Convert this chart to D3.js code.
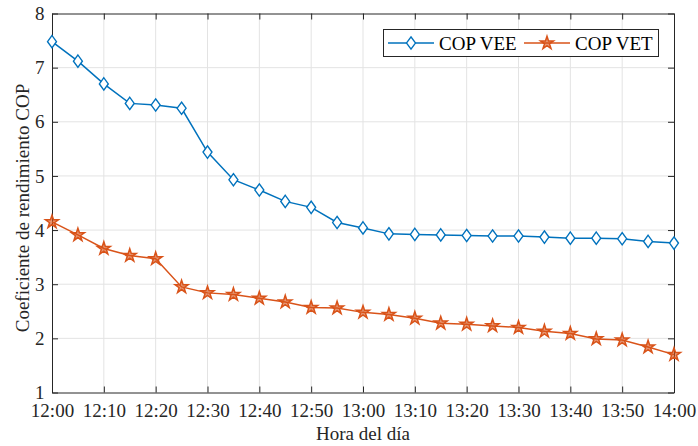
<!DOCTYPE html>
<html>
<head>
<meta charset="utf-8">
<script src="https://cdn.jsdelivr.net/npm/d3@7"></script>
<style>
  body { margin: 0; background: #fff; }
  svg text { font-family: "Liberation Serif", "Times New Roman", serif; }
</style>
</head>
<body>
<svg id="chart" width="698" height="446"></svg>
<script>
// minutes after 12:00, one sample every 5 min
var minutes = d3.range(0, 121, 5);
var copVEE = [7.48, 7.12, 6.70, 6.34, 6.31, 6.25, 5.44, 4.93, 4.74, 4.53, 4.42, 4.14, 4.04,
              3.93, 3.92, 3.91, 3.90, 3.89, 3.89, 3.87, 3.85, 3.85, 3.84, 3.79, 3.76];
var copVET = [4.15, 3.91, 3.66, 3.53, 3.47, 2.95, 2.84, 2.81, 2.74, 2.67, 2.57, 2.56, 2.48,
              2.44, 2.37, 2.28, 2.26, 2.23, 2.20, 2.13, 2.09, 1.99, 1.97, 1.84, 1.70];
var xTicks = [0, 10, 20, 30, 40, 50, 60, 70, 80, 90, 100, 110, 120];
var xTickLabels = ['12:00', '12:10', '12:20', '12:30', '12:40', '12:50', '13:00',
                   '13:10', '13:20', '13:30', '13:40', '13:50', '14:00'];
var yTicks = [1, 2, 3, 4, 5, 6, 7, 8];

var svg = d3.select('#chart');
var pLeft = 52, pRight = 674, pTop = 13.5, pBottom = 392.5;
var axisColor = '#262626';
var blue = '#0072BD', orange = '#D95319';
var fs = '19px';

var x = d3.scaleLinear().domain([0, 120]).range([pLeft, pRight]);
var y = d3.scaleLinear().domain([1, 8]).range([pBottom, pTop]);

// grid
svg.append('g').selectAll('line').data(xTicks.slice(1, -1)).join('line')
  .attr('x1', d => x(d)).attr('x2', d => x(d)).attr('y1', pTop).attr('y2', pBottom)
  .attr('stroke', '#e3e3e3').attr('stroke-width', 1);
svg.append('g').selectAll('line').data(yTicks.slice(1, -1)).join('line')
  .attr('y1', d => y(d)).attr('y2', d => y(d)).attr('x1', pLeft).attr('x2', pRight)
  .attr('stroke', '#e3e3e3').attr('stroke-width', 1);

// axes, ticks pointing inwards, box on
var tl = 6;
var xb = svg.append('g').attr('transform', 'translate(0,' + pBottom + ')')
  .call(d3.axisBottom(x).tickValues(xTicks).tickSizeInner(-tl).tickSizeOuter(0)
    .tickPadding(11.5).tickFormat((d, i) => xTickLabels[i]));
var xt = svg.append('g').attr('transform', 'translate(0,' + pTop + ')')
  .call(d3.axisTop(x).tickValues(xTicks).tickSizeInner(-tl).tickSizeOuter(0).tickFormat(''));
var yl = svg.append('g').attr('transform', 'translate(' + pLeft + ',0)')
  .call(d3.axisLeft(y).tickValues(yTicks).tickSizeInner(-tl).tickSizeOuter(0)
    .tickPadding(7.5).tickFormat(d3.format('d')));
var yr = svg.append('g').attr('transform', 'translate(' + pRight + ',0)')
  .call(d3.axisRight(y).tickValues(yTicks).tickSizeInner(-tl).tickSizeOuter(0).tickFormat(''));

[xb, xt, yl, yr].forEach(function(g) {
  g.selectAll('path, line').attr('stroke', axisColor);
  g.selectAll('text').attr('fill', axisColor).style('font-size', fs)
    .style('font-family', '"Liberation Serif", serif');
});

// axis labels
svg.append('text').attr('x', (pLeft + pRight) / 2).attr('y', 440).attr('text-anchor', 'middle')
  .attr('fill', axisColor).style('font-size', fs).text('Hora del día');
svg.append('text').attr('transform', 'translate(29,208) rotate(-90)')
  .attr('text-anchor', 'middle').attr('fill', axisColor).style('font-size', fs)
  .text('Coeficiente de rendimiento COP');

var line = d3.line().x((d, i) => x(minutes[i])).y(d => y(d));

var diamond = d3.symbol().type(d3.symbolDiamond2).size(80);
var star = d3.symbol().type(d3.symbolStar).size(52);

function drawSeries(vals, color, sym, fill, fillOp) {
  var g = svg.append('g');
  g.append('path').datum(vals).attr('d', line).attr('fill', 'none')
    .attr('stroke', color).attr('stroke-width', 1.5);
  g.selectAll('path.m').data(vals).join('path').attr('class', 'm')
    .attr('d', sym)
    .attr('transform', (d, i) => 'translate(' + x(minutes[i]) + ',' + y(d) + ')' + (sym === diamond ? ' scale(0.8,1.1)' : ''))
    .attr('fill', fill).attr('fill-opacity', fillOp)
    .attr('stroke', color).attr('stroke-width', 1.5);
}
drawSeries(copVEE, blue, diamond, '#fff', 1);
drawSeries(copVET, orange, star, orange, 0.6);

// legend
var leg = svg.append('g');
leg.append('rect').attr('x', 383.5).attr('y', 29.5).attr('width', 275).attr('height', 27)
  .attr('fill', '#fff').attr('stroke', axisColor).attr('stroke-width', 1);
var entries = [
  { name: 'COP VEE', color: blue, sym: diamond, fill: '#fff', op: 1, x0: 388 },
  { name: 'COP VET', color: orange, sym: star, fill: orange, op: 0.6, x0: 524 }
];
entries.forEach(function(e) {
  leg.append('line').attr('x1', e.x0).attr('x2', e.x0 + 46).attr('y1', 43).attr('y2', 43)
    .attr('stroke', e.color).attr('stroke-width', 1.5);
  leg.append('path').attr('d', e.sym)
    .attr('transform', 'translate(' + (e.x0 + 23) + ',43)' + (e.sym === diamond ? ' scale(0.8,1.1)' : ''))
    .attr('fill', e.fill).attr('fill-opacity', e.op).attr('stroke', e.color).attr('stroke-width', 1.5);
  leg.append('text').attr('x', e.x0 + 51).attr('y', 49.5).attr('fill', '#000')
    .style('font-size', fs).text(e.name);
});
</script>
</body>
</html>
